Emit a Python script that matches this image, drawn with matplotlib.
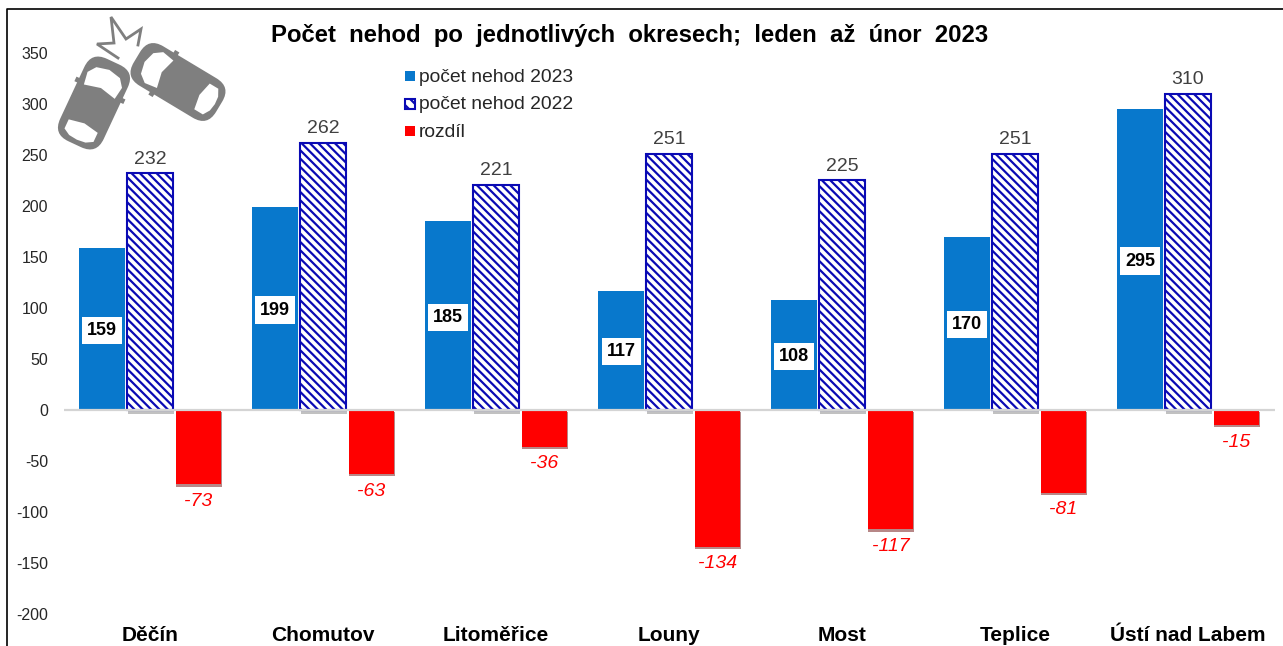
"""Pocet nehod po okresech, leden az unor 2023: sloupcovy graf s ikonou aut."""

import matplotlib
matplotlib.use("Agg")
import matplotlib.pyplot as plt
import matplotlib.patheffects as pe
import numpy as np
from matplotlib.lines import Line2D
from matplotlib.patches import FancyBboxPatch, Polygon, Rectangle
from matplotlib.transforms import Affine2D

okresy = ["Děčín", "Chomutov", "Litoměřice", "Louny", "Most", "Teplice", "Ústí nad Labem"]
nehody_2023 = [159, 199, 185, 117, 108, 170, 295]
nehody_2022 = [232, 262, 221, 251, 225, 251, 310]
rozdil = [-73, -63, -36, -134, -117, -81, -15]
y_ticks = [350, 300, 250, 200, 150, 100, 50, 0, -50, -100, -150, -200]

W, H = 1283, 646
MODRA = "#0878CC"
TMAVA = "#0A0AB4"
CERVENA = "#FF0000"
SEDA = "#7F7F7F"

plt.rcParams["font.family"] = ["Liberation Sans", "DejaVu Sans"]
plt.rcParams["hatch.linewidth"] = 1.6
plt.rcParams["axes.unicode_minus"] = False

fig = plt.figure(figsize=(W / 100, H / 100), dpi=100, facecolor="white")
ax = fig.add_axes([63.5 / W, 1 - 620 / H, 1211 / W, 611 / H])
ax.set_xlim(-0.5, 6.5)
ax.set_ylim(-205.9, 393.1)
ax.patch.set_alpha(0)

x = np.arange(len(okresy))
sirka = 0.265
krok = 0.277
x_rozdil = x + krok + 0.003

stin = [pe.SimplePatchShadow(offset=(0.7, -1.6), shadow_rgbFace="#701010", alpha=0.5), pe.Normal()]
stin_sedy = [pe.SimplePatchShadow(offset=(0.7, -3), shadow_rgbFace="#666666", alpha=0.4), pe.Normal()]
ax.bar(x - krok, nehody_2023, sirka, color=MODRA, zorder=2)
# bily podklad nese stin, srafovany sloupec lezi nad nim
ax.bar(x, nehody_2022, sirka, color="white", zorder=1.9, path_effects=stin_sedy)
ax.bar(x, nehody_2022, sirka, facecolor="white", edgecolor=TMAVA, hatch="\\\\\\\\",
       linewidth=1.5, zorder=2)
ax.bar(x_rozdil, rozdil, sirka, color=CERVENA, zorder=2, path_effects=stin)
ax.axhline(0, color="#D4D4D4", lw=1.6, zorder=3)

for xi, v in zip(x - krok, nehody_2023):
    ax.text(xi, v / 2 - 1.5, str(v), ha="center", va="center", fontsize=13, fontweight="bold",
            color="black", zorder=4,
            bbox=dict(facecolor="white", edgecolor="none", pad=3.6))
for xi, v in zip(x, nehody_2022):
    ax.text(xi, v + 5.5, str(v), ha="center", va="bottom", fontsize=14, color="#404040")
for xi, v in zip(x_rozdil, rozdil):
    ax.text(xi, v - 8.5, str(v), ha="center", va="top", fontsize=14, style="italic", color=CERVENA)

for s in ax.spines.values():
    s.set_visible(False)
ax.set_yticks(y_ticks)
ax.tick_params(axis="y", length=0, pad=11, labelsize=11.5, labelcolor="#262626")
ax.set_xticks(x)
ax.set_xticklabels(okresy, fontsize=15, fontweight="bold", color="black")
ax.tick_params(axis="x", length=0, pad=4.5)

# vrstva v pixelech pro ramecek, nadpis, legendu a ikonu
ov = fig.add_axes([0, 0, 1, 1])
ov.set_xlim(0, W)
ov.set_ylim(H, 0)
ov.axis("off")
ov.patch.set_alpha(0)

ov.add_line(Line2D([7, 7, W], [H, 9, 9], color="black", lw=1.2))
ov.text(630, 35.5, "Počet  nehod  po  jednotlivých  okresech;  leden  až  únor  2023",
        ha="center", va="center", fontsize=17.2, fontweight="bold", color="black")

legenda = [("počet nehod 2023", 82), ("počet nehod 2022", 109), ("rozdíl", 137)]
for text, y in legenda:
    ov.text(419, y, text, va="baseline", fontsize=13.9, color="#262626")
ov.add_patch(Rectangle((405, 71), 9.5, 9.5, facecolor=MODRA, edgecolor="none"))
ov.add_patch(Rectangle((405, 99), 9.5, 9.5, facecolor="white", edgecolor=TMAVA, hatch="\\\\\\", lw=1.5))
ov.add_patch(Rectangle((405, 126), 9.5, 9.5, facecolor=CERVENA, edgecolor="none"))


def auto(cx, cy, uhel, delka, sirka_auta):
    # predek auta je v lokalnich souradnicich na +x
    t = Affine2D().rotate_deg(uhel).translate(cx, cy) + ov.transData
    d, s = delka / 2, sirka_auta / 2
    r = 17
    ov.add_patch(FancyBboxPatch((-d + r, -s + r), delka - 2 * r, sirka_auta - 2 * r,
                                boxstyle=f"round,pad={r}", facecolor=SEDA, edgecolor="none", transform=t))
    ov.add_patch(Polygon([(d - 33, -s + 7), (d - 20, -s + 5), (d - 12, -s + 11), (d - 9, 0),
                          (d - 12, s - 11), (d - 20, s - 5), (d - 33, s - 7), (d - 29, 0)],
                         facecolor="white", edgecolor="none", transform=t))
    ov.add_patch(Polygon([(-d + 20, -s + 8), (-d + 10, -s + 8), (-d + 6, -s + 15), (-d + 5, 0),
                          (-d + 6, s - 15), (-d + 10, s - 8), (-d + 20, s - 8), (-d + 23, 0)],
                         facecolor="white", edgecolor="none", transform=t))
    # zrcatka
    for znak in (-1, 1):
        ov.add_patch(Rectangle((d - 34, znak * s - 3), 5, 6, facecolor=SEDA, edgecolor="none", transform=t))


auto(94, 103, -65, 91, 48)
auto(178, 82, 211, 96, 46)

# hvezda nad srazkou
ov.add_line(Line2D([138, 141, 126, 111, 114, 97, 118], [45, 29, 39, 17, 43, 44, 58],
                   color=SEDA, lw=2, solid_joinstyle="miter"))

fig.savefig("out.png", dpi=100)
